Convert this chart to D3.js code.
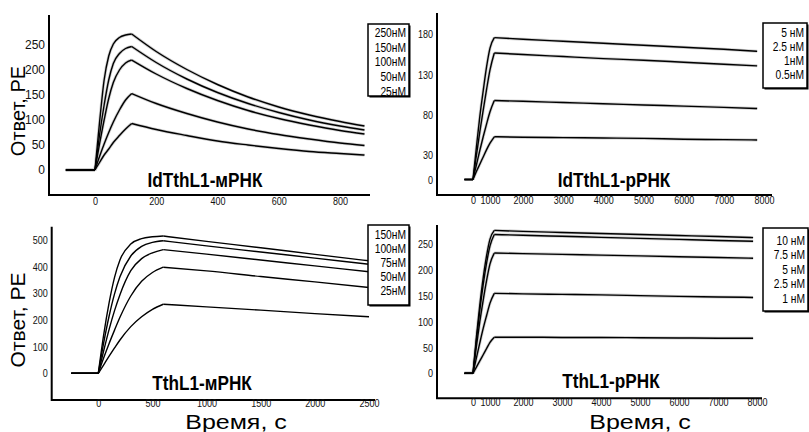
<!DOCTYPE html>
<html><head><meta charset="utf-8">
<script src="https://cdn.jsdelivr.net/npm/d3@7"></script>
<style>body{margin:0;background:#fff}svg{display:block}</style>
</head><body><svg id="c" width="809" height="432"></svg>
<script>
// ---------- Panel A : IdTthL1-мРНК ----------
const aTitle = "IdTthL1-мРНК";
const aLabels = ["250нМ","150нМ","100нМ","50нМ","25нМ"];
const aBaseStart = -95;
const aAssocTimes = [0, 15, 30, 45, 60, 80, 100, 120];
const aAssoc = [
  [0, 95, 180, 228, 252, 265, 270, 272],
  [0, 70, 130, 180, 213, 233, 243, 247],
  [0, 52, 100, 143, 175, 200, 214, 220],
  [0, 27, 52, 75, 96, 120, 140, 153],
  [0, 15, 30, 42, 55, 69, 82, 93]
];
const aDissTimes = [120, 200, 300, 400, 500, 600, 700, 800, 880];
const aDiss = [
  [272, 237, 201, 171, 146, 126, 110, 97, 88],
  [247, 215, 182, 155, 133, 115, 100, 88, 80],
  [220, 192, 163, 139, 119, 103, 90, 79, 72],
  [153, 133, 113, 96, 82, 71, 62, 54, 49],
  [93, 81, 69, 58, 50, 43, 37, 33, 30]
];
const aXTicks = [0, 200, 400, 600, 800];
const aYTicks = [0, 50, 100, 150, 200, 250];

// ---------- Panel B : IdTthL1-рРНК ----------
const bTitle = "IdTthL1-рРНК";
const bLabels = ["5 нМ","2.5 нМ","1нМ","0.5нМ"];
const bBaseStart = -500;
const bAssocTimes = [0, 200, 400, 600, 800, 1000, 1130];
const bAssoc = [
  [0, 40, 78, 110, 140, 163, 176],
  [0, 30, 59, 86, 112, 136, 157],
  [0, 18, 36, 53, 69, 84, 98],
  [0, 10, 19, 28, 37, 45, 53]
];
const bDissTimes = [1130, 2000, 3000, 4000, 5000, 6000, 7000, 7830];
const bDiss = [
  [176, 174, 171.5, 169, 166.5, 164, 161.5, 159],
  [157, 155, 152.5, 150, 148, 145.5, 143, 141],
  [98, 97, 95.5, 94, 92.5, 91, 89.5, 88],
  [53, 52.5, 52, 51.5, 51, 50, 49.5, 49]
];
const bXTicks = [0, 1000, 2000, 3000, 4000, 5000, 6000, 7000, 8000];
const bYTicks = [0, 30, 80, 130, 180];

// ---------- Panel C : TthL1-мРНК ----------
const cTitle = "TthL1-мРНК";
const cLabels = ["150нМ","100нМ","75нМ","50нМ","25нМ"];
const cBaseStart = -250;
const cAssocTimes = [0, 50, 100, 150, 200, 300, 400, 500, 600];
const cAssoc = [
  [0, 145, 265, 360, 425, 485, 505, 512, 515],
  [0, 115, 215, 298, 362, 440, 476, 491, 497],
  [0, 85, 165, 235, 295, 385, 430, 452, 464],
  [0, 58, 112, 162, 210, 290, 345, 378, 398],
  [0, 32, 64, 95, 125, 175, 212, 240, 259]
];
const cDissTimes = [600, 1000, 1500, 2000, 2500];
const cDiss = [
  [515, 495, 471, 446, 422],
  [497, 478, 455, 432, 409],
  [464, 447, 425, 403, 381],
  [398, 384, 363, 343, 322],
  [259, 249, 237, 224, 212]
];
const cXTicks = [0, 500, 1000, 1500, 2000, 2500];
const cYTicks = [0, 100, 200, 300, 400, 500];

// ---------- Panel D : TthL1-рРНК ----------
const dTitle = "TthL1-рРНК";
const dLabels = ["10 нМ","7.5 нМ","5 нМ","2.5 нМ","1 нМ"];
const dBaseStart = -500;
const dAssocTimes = [0, 200, 400, 600, 800, 1000, 1130];
const dAssoc = [
  [0, 70, 132, 185, 228, 260, 277],
  [0, 64, 122, 172, 214, 247, 269],
  [0, 52, 100, 142, 180, 212, 233],
  [0, 30, 59, 87, 112, 136, 155],
  [0, 12, 24, 36, 48, 60, 70]
];
const dDissTimes = [1130, 2000, 3000, 4000, 5000, 6000, 7000, 7900];
const dDiss = [
  [277, 275, 273, 271, 269, 267, 265, 263],
  [269, 267.5, 265.5, 263.5, 261.5, 259.5, 257.5, 256],
  [233, 232, 230.5, 229, 227.5, 226, 224.5, 223],
  [155, 154, 153, 152, 150.5, 149, 148, 147],
  [70, 70, 69.5, 69.5, 69, 68.5, 68, 68]
];
const dXTicks = [0, 1000, 2000, 3000, 4000, 5000, 6000, 7000, 8000];
const dYTicks = [0, 50, 100, 150, 200, 250];

// ---------- layout ----------
const FONT = '"Liberation Sans",Arial,Helvetica,sans-serif';
const K = 0.82; // horizontal squeeze of the original figure's lettering

const panels = [
  {title:aTitle, labels:aLabels, base:aBaseStart, at:aAssocTimes, av:aAssoc, dt:aDissTimes, dv:aDiss, xt:aXTicks, yt:aYTicks,
   xd:[-150, 898], xr:[49, 370], yd:[-50, 310], yr:[195, 15],
   ax:{l:49, r:370, t:15, b:195}, xPad:2, yPad:4, yFs:12, yK:1, halo:true,
   tt:{x:205, y:186.5}, lg:{x:368, y:24, w:41, h:72, rx:406, r0:32.5, step:14.7}},
  {title:bTitle, labels:bLabels, base:bBaseStart, at:bAssocTimes, av:bAssoc, dt:bDissTimes, dv:bDiss, xt:bXTicks, yt:bYTicks,
   xd:[0, 1000, 2000, 8000], xr:[473, 490, 523, 764], yd:[0, 180], yr:[179.5, 34.4],
   ax:{l:437, r:772, t:13, b:195}, xPad:1, yPad:4, yFs:11, yK:K, halo:true,
   tt:{x:614, y:186.5}, lg:{x:763, y:23, w:44, h:65, rx:804, r0:32.7, step:13.8}},
  {title:cTitle, labels:cLabels, base:cBaseStart, at:cAssocTimes, av:cAssoc, dt:cDissTimes, dv:cDiss, xt:cXTicks, yt:cYTicks,
   xd:[0, 2500], xr:[98.3, 369], yd:[0, 500], yr:[373.3, 240],
   ax:{l:51.7, r:375, t:226.7, b:400}, xPad:-0.5, yPad:4, yFs:11, yK:K, halo:false,
   tt:{x:202, y:390}, lg:{x:368, y:225, w:41, h:80, rx:406, r0:234.3, step:14}},
  {title:dTitle, labels:dLabels, base:dBaseStart, at:dAssocTimes, av:dAssoc, dt:dDissTimes, dv:dDiss, xt:dXTicks, yt:dYTicks,
   xd:[0, 1000, 2000, 8000], xr:[473, 490, 523, 757], yd:[0, 250], yr:[373.3, 244.3],
   ax:{l:437, r:762, t:225, b:398.3}, xPad:0, yPad:4, yFs:11, yK:K, halo:true,
   tt:{x:611, y:388}, lg:{x:763, y:228, w:45, h:83, rx:805, r0:240.5, step:14.5}}
];

const svg = d3.select('#c');
svg.append('rect').attr('width',809).attr('height',432).attr('fill','#fff');

function sqText(g, x, y, k, str, size, anchor, weight) {
  return g.append('text')
    .attr('transform', `translate(${x},${y}) scale(${k},1)`)
    .attr('text-anchor', anchor).attr('font-family', FONT)
    .attr('font-size', size).attr('font-weight', weight || 'normal')
    .attr('fill', '#000').text(str);
}

panels.forEach(p => {
  const g = svg.append('g');
  const x = d3.scaleLinear().domain(p.xd).range(p.xr);
  const y = d3.scaleLinear().domain(p.yd).range(p.yr);

  // curves
  const line = d3.line().x(d=>x(d[0])).y(d=>y(d[1])).curve(d3.curveMonotoneX);
  const allSegs = p.labels.map((lab, i) => [
      [[p.base,0],[0,0]],
      p.at.map((t,j)=>[t, p.av[i][j]]),
      p.dt.map((t,j)=>[t, p.dv[i][j]])
  ]);
  if (p.halo) allSegs.forEach(segs => segs.forEach(s => {
    g.append('path').attr('d', line(s)).attr('fill','none')
      .attr('stroke','#cfcfcf').attr('stroke-width',3).attr('stroke-linejoin','round');
  }));
  allSegs.forEach(segs => segs.forEach(s => {
    g.append('path').attr('d', line(s)).attr('fill','none')
      .attr('stroke','#000').attr('stroke-width',1.4).attr('stroke-linejoin','round');
  }));

  // axis lines
  g.append('path')
    .attr('d', `M${p.ax.l},${p.ax.t}V${p.ax.b}H${p.ax.r}`)
    .attr('fill','none').attr('stroke','#000').attr('stroke-width',2);

  const xa = g.append('g').attr('transform',`translate(0,${p.ax.b})`)
    .call(d3.axisBottom(x).tickValues(p.xt).tickSize(0).tickPadding(p.xPad).tickFormat(d3.format('d')));
  xa.select('.domain').remove();
  xa.selectAll('text').attr('font-family',FONT).attr('font-size',11).attr('fill','#111')
    .attr('transform',`scale(${K},1)`);

  const ya = g.append('g').attr('transform',`translate(${p.ax.l},0)`)
    .call(d3.axisLeft(y).tickValues(p.yt).tickSize(0).tickPadding(p.yPad).tickFormat(d3.format('d')));
  ya.select('.domain').remove();
  ya.selectAll('text').attr('font-family',FONT).attr('font-size',p.yFs).attr('fill','#111')
    .attr('x', -p.yPad / p.yK).attr('transform',`scale(${p.yK},1)`);

  // title
  sqText(g, p.tt.x, p.tt.y, 0.86, p.title, 20, 'middle', 'bold');

  // legend
  const L = p.lg;
  g.append('rect').attr('x',L.x+1.5).attr('y',L.y+1.5).attr('width',L.w).attr('height',L.h).attr('fill','#000');
  g.append('rect').attr('x',L.x).attr('y',L.y).attr('width',L.w).attr('height',L.h)
    .attr('fill','#fff').attr('stroke','#000').attr('stroke-width',1.5);
  p.labels.forEach((lab,i)=>{
    sqText(g, L.rx, L.r0 + i*L.step + 4.4, K, lab, 12.5, 'end');
  });
});

// axis titles
svg.append('text').attr('transform','translate(25,111) rotate(-90)').attr('text-anchor','middle')
  .attr('font-family',FONT).attr('font-size',20).text('Ответ, РЕ');
svg.append('text').attr('transform','translate(25,320) rotate(-90)').attr('text-anchor','middle')
  .attr('font-family',FONT).attr('font-size',21).text('Ответ, РЕ');
[236, 640].forEach(cx => {
  svg.append('text').attr('transform',`translate(${cx},428.5) scale(1.25,1)`).attr('text-anchor','middle')
    .attr('font-family',FONT).attr('font-size',20).text('Время, с');
});
</script></body></html>
